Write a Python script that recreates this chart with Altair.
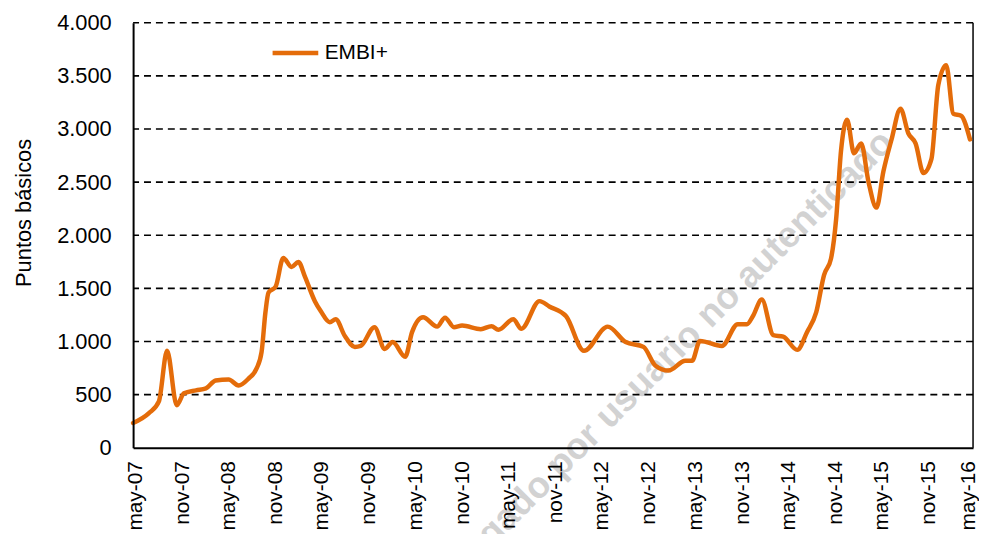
import altair as alt
import pandas as pd

# ---- data ----
fechas = [
    "2007-05-01", "2007-07-02", "2007-08-10", "2007-09-11", "2007-10-19", "2007-11-16",
    "2008-01-02", "2008-02-10", "2008-03-19", "2008-05-09", "2008-06-17", "2008-07-26",
    "2008-08-26", "2008-09-15", "2008-09-30", "2008-10-12", "2008-11-09", "2008-12-09",
    "2009-01-10", "2009-02-06", "2009-03-04", "2009-04-12", "2009-05-05", "2009-06-09",
    "2009-07-02", "2009-08-07", "2009-09-15", "2009-10-08", "2009-12-01", "2010-01-10",
    "2010-02-10", "2010-03-31", "2010-04-27", "2010-06-09", "2010-08-03", "2010-09-03",
    "2010-10-08", "2010-11-09", "2011-01-21", "2011-03-04", "2011-03-31", "2011-05-28",
    "2011-06-29", "2011-09-08", "2011-10-16", "2011-12-21", "2012-02-29", "2012-06-01",
    "2012-08-10", "2012-10-19", "2012-12-05", "2013-01-25", "2013-04-01", "2013-04-27",
    "2013-05-28", "2013-08-22", "2013-10-23", "2013-11-28", "2013-12-21", "2014-01-25",
    "2014-03-11", "2014-04-19", "2014-06-13", "2014-07-21", "2014-08-26", "2014-09-26",
    "2014-10-23", "2014-11-12", "2014-12-01", "2014-12-25", "2015-01-21", "2015-02-18",
    "2015-03-19", "2015-04-19", "2015-05-16", "2015-06-17", "2015-07-22", "2015-08-22",
    "2015-09-19", "2015-10-20", "2015-11-20", "2015-12-17", "2016-01-17", "2016-02-14",
    "2016-03-15", "2016-04-19",
]
embi = [
    233, 326, 436, 912, 400, 512,
    540, 558, 633, 642, 586, 651,
    744, 902, 1274, 1460, 1516, 1786,
    1702, 1749, 1609, 1377, 1284, 1181,
    1209, 1051, 949, 958, 1135, 930,
    995, 856, 1088, 1228, 1140, 1224,
    1135, 1150, 1116, 1144, 1110, 1209,
    1120, 1380, 1330, 1237, 912, 1140,
    995, 949, 772, 726, 819, 819,
    1005, 958, 1163, 1163, 1237, 1395,
    1060, 1045, 921, 1088, 1274, 1628,
    1780, 2150, 2791, 3088, 2772, 2865,
    2500, 2260, 2600, 2902, 3191, 2958,
    2865, 2586, 2716, 3414, 3600, 3144,
    3126, 2902,
]
serie = "EMBI+"
y_ticks = [0, 500, 1000, 1500, 2000, 2500, 3000, 3500, 4000]
x_ticks = [(2007, 5), (2007, 11), (2008, 5), (2008, 11), (2009, 5), (2009, 11),
           (2010, 5), (2010, 11), (2011, 5), (2011, 11), (2012, 5), (2012, 11),
           (2013, 5), (2013, 11), (2014, 5), (2014, 11), (2015, 5), (2015, 11),
           (2016, 5)]
y_title = "Puntos básicos"
watermark = "descargado por usuario no autenticado"

# ---- chart ----
W, H = 846, 428
FONT = "Liberation Sans"
ORANGE = "#E46C0A"

df = pd.DataFrame({"fecha": fechas, "embi": embi, "serie": [serie] * len(fechas)})
grid_df = pd.DataFrame({"embi": y_ticks[1:]})

def dt(y, m):
    return alt.DateTime(year=y, month=m, date=1, utc=True)

x_enc = alt.X(
    "fecha:T",
    scale=alt.Scale(type="utc", domain=[dt(2007, 5), dt(2016, 5)]),
    axis=alt.Axis(
        values=[dt(y, m) for y, m in x_ticks],
        labelExpr="(utcmonth(datum.value) == 4 ? 'may-' : 'nov-') + utcFormat(datum.value, '%y')",
        labelAngle=270, labelAlign="right", labelBaseline="middle",
        labelFontSize=21, labelFont=FONT, labelColor="black", labelPadding=13,
        labelOffset={"condition": {"test": "datum.value > 1450000000000", "value": -5}, "value": 2},
        labelFlush=False, labelOverlap=False,
        ticks=False, tickSize=0, domainColor="black", domainWidth=2,
        grid=False, title=None, zindex=1,
    ),
)

y_scale = alt.Scale(domain=[0, 4000], nice=False, zero=True)
y_axis = alt.Axis(
    values=y_ticks,
    labelExpr="replace(format(datum.value, ','), ',', '.')",
    labelFontSize=22, labelFont=FONT, labelColor="black", labelPadding=22,
    ticks=False, tickSize=0, domainColor="black", domainWidth=2, grid=False,
    title=y_title, titleFont=FONT, titleFontSize=22, titleFontWeight="normal",
    titleColor="black", titleAngle=270, titleX=-110, titleY=191,
    titleAlign="center", titleBaseline="middle", zindex=1,
)

wm = alt.Chart(pd.DataFrame({"t": [watermark]})).mark_text(
    angle=315, align="right", baseline="middle", fontSize=37, fontWeight="bold",
    font=FONT, color="#d2d2d2",
).encode(text="t:N", x=alt.value(760), y=alt.value(115))

grid = alt.Chart(grid_df).mark_rule(
    color="black", strokeWidth=1.6, strokeDash=[7, 5]
).encode(y=alt.Y("embi:Q", scale=y_scale, axis=y_axis))

border = alt.Chart(pd.DataFrame({"a": [0]})).mark_rule(
    color="black", strokeWidth=1.5
).encode(x=alt.value(W), y=alt.value(0), y2=alt.value(H))

line = alt.Chart(df).mark_line(
    interpolate="monotone", strokeWidth=4.5, strokeCap="round", strokeJoin="round"
).encode(
    x=x_enc,
    y=alt.Y("embi:Q", scale=y_scale, axis=y_axis),
    color=alt.Color(
        "serie:N",
        scale=alt.Scale(range=[ORANGE]),
        legend=alt.Legend(
            orient="none", legendX=138, legendY=5, title=None,
            symbolType="stroke", symbolSize=2116, symbolStrokeWidth=4.5,
            labelFontSize=21, labelFont=FONT, labelColor="black", padding=0,
        ),
    ),
)

chart = alt.layer(wm, grid, border, line).properties(
    width=W, height=H,
    autosize=alt.AutoSizeParams(type="none"),
    padding={"left": 126, "top": 13, "right": 6, "bottom": 85},
).configure_view(stroke=None)

chart.save("out.html", embed_options={"renderer": "svg", "actions": False})
